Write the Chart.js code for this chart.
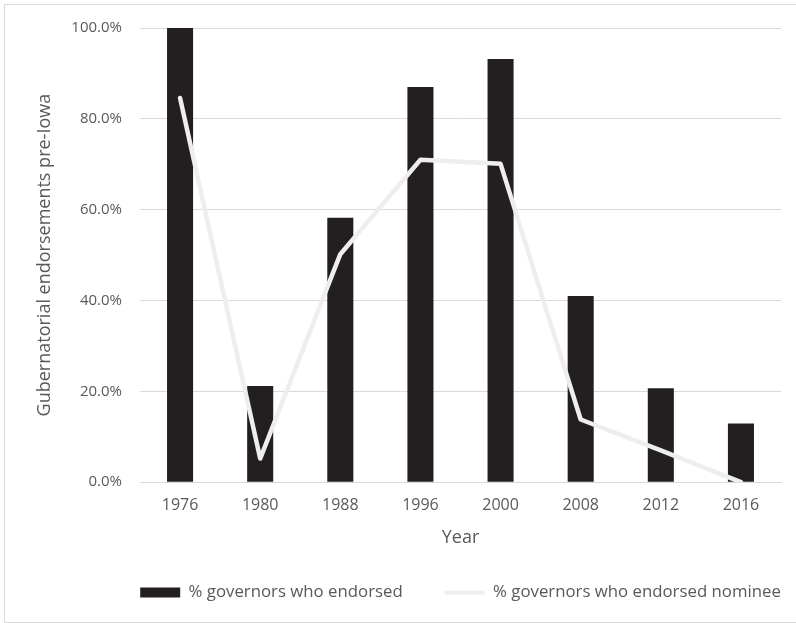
<!DOCTYPE html>
<html>
<head>
<meta charset="utf-8">
<script src="https://cdn.jsdelivr.net/npm/chart.js@4/dist/chart.umd.min.js"></script>
<style>
    body { margin: 0; background: #fff; }
    #frame { position: absolute; left: 4px; top: 4px; width: 820px; height: 617px; border: 1px solid #d9d9d9; }
    #wrap { position: absolute; left: 0; top: 0; width: 796px; height: 623px; }
</style>
</head>
<body>
<div id="frame"></div>
<div id="wrap"><canvas id="endorseChart"></canvas></div>
<script>
// election years
var years = ['1976', '1980', '1988', '1996', '2000', '2008', '2012', '2016'];
// % governors who endorsed (bars)
var endorsed = [100, 21.2, 58.2, 87.0, 93.2, 41.0, 20.7, 12.9];
// % governors who endorsed the eventual nominee (line)
var endorsedNominee = [84.6, 5.2, 50.2, 71.0, 70.1, 13.8, 7.0, 0];
// y axis ticks
var yTicks = [0, 20, 40, 60, 80, 100];

var textColor = '#595959';
var gridColor = '#d9d9d9';
var fontFamily = '"Open Sans", "Liberation Sans", sans-serif';

// legend is centred under the plot area, not the whole canvas
var legendShift = {
    id: 'legendShift',
    afterLayout: function (chart) {
        var dx = (chart.chartArea.left + chart.chartArea.right) / 2 - (chart.legend.left + chart.legend.right) / 2;
        chart.legend.left += dx;
        chart.legend.right += dx;
    }
};

var ctx = document.getElementById('endorseChart').getContext('2d');
new Chart(ctx, {
    type: 'bar',
    data: {
        labels: years,
        datasets: [{
            label: '% governors who endorsed',
            data: endorsed,
            backgroundColor: '#231f20',
            borderWidth: 0,
            barPercentage: 0.325,
            categoryPercentage: 1,
            pointStyle: 'rect',
            order: 1
        }, {
            type: 'line',
            label: '% governors who endorsed nominee',
            data: endorsedNominee,
            borderColor: '#eeeeee',
            backgroundColor: '#eeeeee',
            borderWidth: 4.5,
            borderCapStyle: 'round',
            borderJoinStyle: 'round',
            tension: 0,
            pointRadius: 0,
            pointStyle: 'line',
            pointBorderColor: '#eeeeee',
            pointBorderWidth: 4,
            fill: false,
            order: 0
        }]
    },
    options: {
        responsive: true,
        maintainAspectRatio: false,
        animation: false,
        layout: {
            padding: { left: 30, right: 15, top: 28, bottom: 12 }
        },
        scales: {
            x: {
                afterFit: function (scale) {
                    scale.height = 60;
                },
                grid: { display: false, drawTicks: false },
                border: { display: true, color: gridColor, width: 1 },
                ticks: { color: textColor, font: { family: fontFamily, size: 16 }, padding: 14 },
                title: { display: true, text: 'Year', color: textColor, font: { family: fontFamily, size: 18 }, padding: { top: 0, bottom: -6 } }
            },
            y: {
                min: 0,
                max: 100,
                afterBuildTicks: function (scale) {
                    scale.ticks = yTicks.map(function (v) { return { value: v }; });
                },
                afterFit: function (scale) {
                    scale.width = 110;
                },
                grid: { color: gridColor, drawTicks: false },
                border: { display: false },
                ticks: {
                    color: textColor,
                    font: { family: fontFamily, size: 15 },
                    padding: 18,
                    callback: function (v) { return v.toFixed(1) + '%'; }
                },
                title: { display: true, text: 'Gubernatorial endorsements pre-Iowa', color: textColor, font: { family: fontFamily, size: 18 } }
            }
        },
        plugins: {
            legend: {
                position: 'bottom',
                maxHeight: 70,
                labels: {
                    color: textColor,
                    font: { family: fontFamily, size: 16.8 },
                    usePointStyle: true,
                    pointStyleWidth: 40,
                    boxHeight: 10,
                    padding: 42,
                    sort: function (a, b) { return a.datasetIndex - b.datasetIndex; }
                }
            },
            tooltip: { enabled: false }
        }
    },
    plugins: [legendShift]
});
</script>
</body>
</html>
